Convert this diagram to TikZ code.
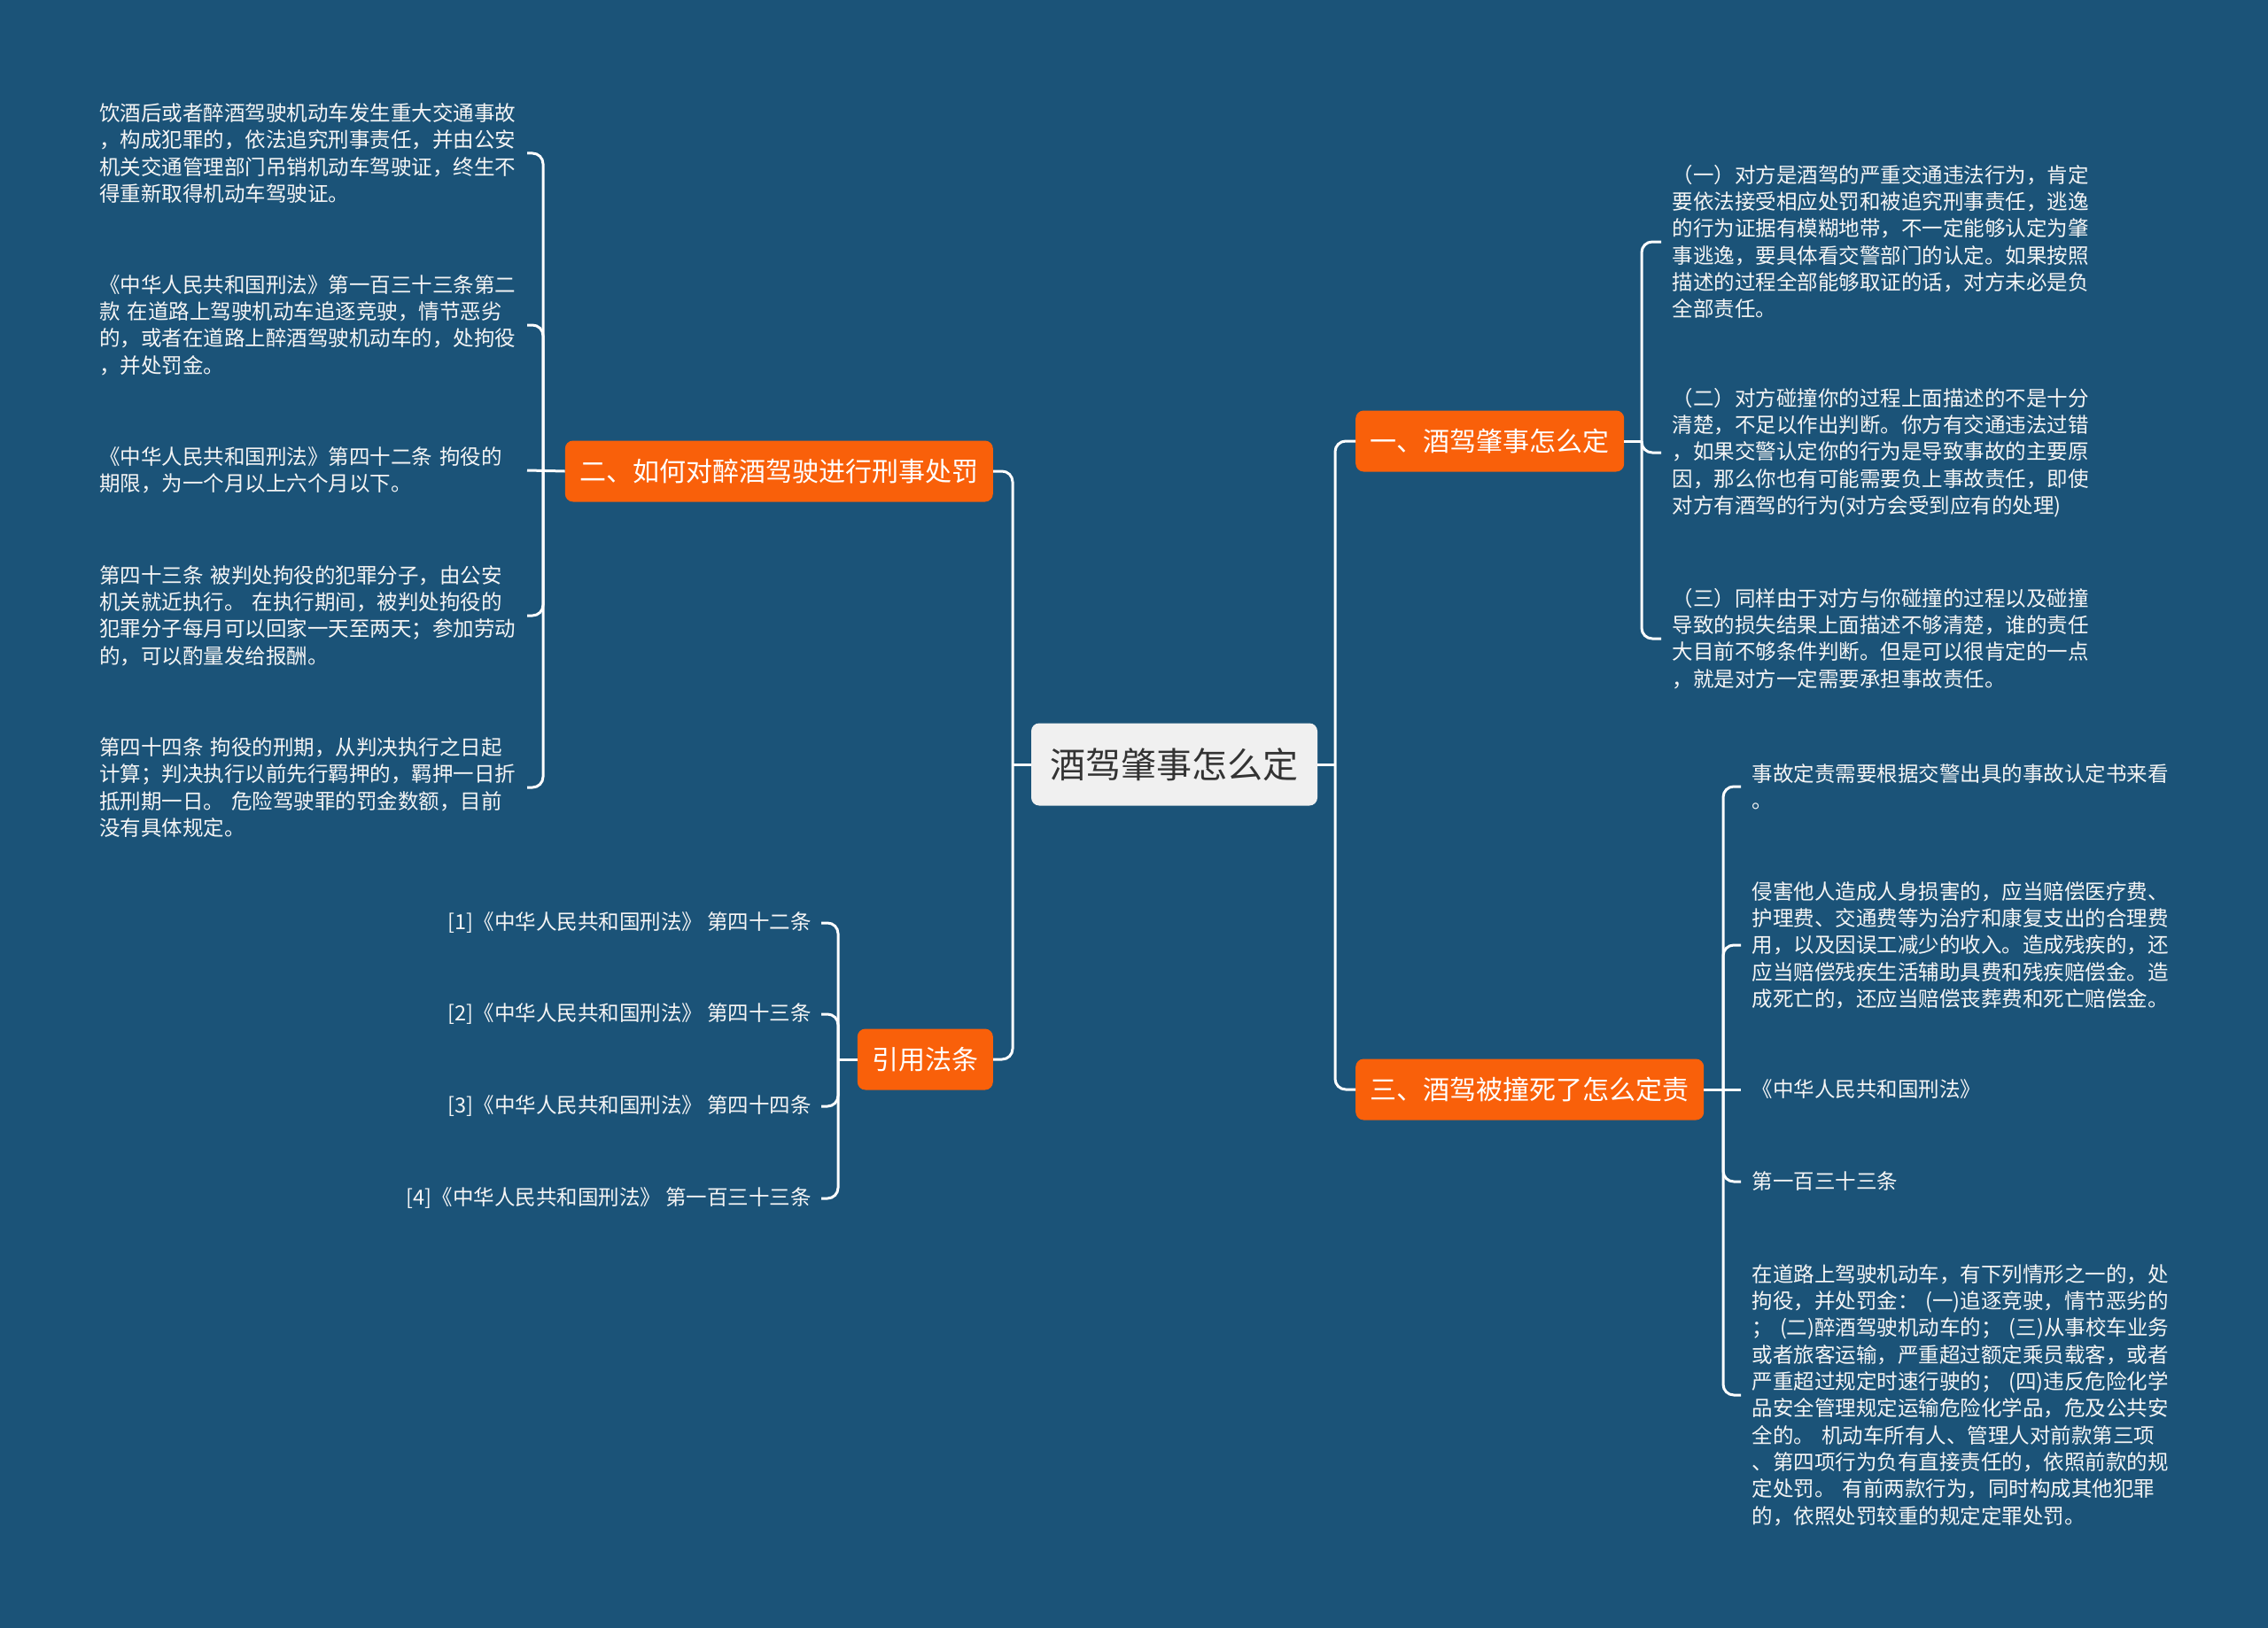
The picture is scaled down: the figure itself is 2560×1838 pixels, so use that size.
\documentclass[tikz,border=0pt]{standalone}
\usepackage{fontspec}
\setmainfont{Noto Sans CJK SC}
\definecolor{bgblue}{RGB}{27,83,120}
\definecolor{orng}{RGB}{249,96,10}
\definecolor{rootfill}{RGB}{240,240,240}
\definecolor{roottext}{RGB}{51,51,51}
\definecolor{leaftext}{RGB}{245,245,245}
\tikzset{
  conn/.style={draw=white, line width=3pt},
  rc/.style={conn, rounded corners=12pt},
  rootbox/.style={fill=rootfill, text=roottext, rounded corners=9pt, font=\fontsize{40}{48}\selectfont, inner xsep=21.5pt, inner ysep=0pt, minimum height=93pt},
  branch/.style={fill=orng, text=white, rounded corners=9pt, font=\fontsize{30}{36}\selectfont, inner xsep=16.5pt, inner ysep=0pt, minimum height=69pt},
  leaf/.style={text=leaftext, font=\fontsize{23.5}{30.3}\selectfont, align=left, text width=470pt, inner xsep=12.5pt, inner ysep=2pt},
  citeleaf/.style={text=leaftext, font=\fontsize{23.5}{30.3}\selectfont, inner xsep=11pt, inner ysep=2pt}
}
\begin{document}
\begin{tikzpicture}[x=1pt,y=-1pt]
\useasboundingbox (0,0) rectangle (2560,1838);
\fill[bgblue] (0,0) rectangle (2560,1838);

% root and branches
\node[rootbox] (root) at (1325.5,863) {酒驾肇事怎么定};
\node[branch, anchor=west] (b1) at (1530,498) {一、酒驾肇事怎么定};
\node[branch, anchor=west] (b3) at (1530,1230) {三、酒驾被撞死了怎么定责};
\node[branch, anchor=east] (b2) at (1121,532) {二、如何对醉酒驾驶进行刑事处罚};
\node[branch, anchor=east] (cite) at (1121,1196) {引用法条};

% left leaves of b2
\node[leaf, anchor=east] (L1) at (595,173) {饮酒后或者醉酒驾驶机动车发生重大交通事故\\，构成犯罪的，依法追究刑事责任，并由公安\\机关交通管理部门吊销机动车驾驶证，终生不\\得重新取得机动车驾驶证。};
\node[leaf, anchor=east] (L2) at (595,367) {《中华人民共和国刑法》第一百三十三条第二\\款~在道路上驾驶机动车追逐竞驶，情节恶劣\\的，或者在道路上醉酒驾驶机动车的，处拘役\\，并处罚金。};
\node[leaf, anchor=east] (L3) at (595,531) {《中华人民共和国刑法》第四十二条~拘役的\\期限，为一个月以上六个月以下。};
\node[leaf, anchor=east] (L4) at (595,695) {第四十三条~被判处拘役的犯罪分子，由公安\\机关就近执行。~在执行期间，被判处拘役的\\犯罪分子每月可以回家一天至两天；参加劳动\\的，可以酌量发给报酬。};
\node[leaf, anchor=east] (L5) at (595,889) {第四十四条~拘役的刑期，从判决执行之日起\\计算；判决执行以前先行羁押的，羁押一日折\\抵刑期一日。~危险驾驶罪的罚金数额，目前\\没有具体规定。};

% cite leaves
\node[citeleaf, anchor=east] (c1) at (927,1042) {[1]《中华人民共和国刑法》~第四十二条};
\node[citeleaf, anchor=east] (c2) at (927,1145) {[2]《中华人民共和国刑法》~第四十三条};
\node[citeleaf, anchor=east] (c3) at (927,1249) {[3]《中华人民共和国刑法》~第四十四条};
\node[citeleaf, anchor=east] (c4) at (927,1353) {[4]《中华人民共和国刑法》~第一百三十三条};

% right leaves of b1
\node[leaf, anchor=west] (r1a) at (1875,273) {（一）对方是酒驾的严重交通违法行为，肯定\\要依法接受相应处罚和被追究刑事责任，逃逸\\的行为证据有模糊地带，不一定能够认定为肇\\事逃逸，要具体看交警部门的认定。如果按照\\描述的过程全部能够取证的话，对方未必是负\\全部责任。};
\node[leaf, anchor=west] (r1b) at (1875,511) {（二）对方碰撞你的过程上面描述的不是十分\\清楚，不足以作出判断。你方有交通违法过错\\，如果交警认定你的行为是导致事故的主要原\\因，那么你也有可能需要负上事故责任，即使\\对方有酒驾的行为(对方会受到应有的处理)};
\node[leaf, anchor=west] (r1c) at (1875,721) {（三）同样由于对方与你碰撞的过程以及碰撞\\导致的损失结果上面描述不够清楚，谁的责任\\大目前不够条件判断。但是可以很肯定的一点\\，就是对方一定需要承担事故责任。};

% right leaves of b3
\node[leaf, anchor=west] (r3a) at (1965,888) {事故定责需要根据交警出具的事故认定书来看\\。};
\node[leaf, anchor=west] (r3b) at (1965,1067) {侵害他人造成人身损害的，应当赔偿医疗费、\\护理费、交通费等为治疗和康复支出的合理费\\用，以及因误工减少的收入。造成残疾的，还\\应当赔偿残疾生活辅助具费和残疾赔偿金。造\\成死亡的，还应当赔偿丧葬费和死亡赔偿金。};
\node[leaf, anchor=west] (r3c) at (1965,1230) {《中华人民共和国刑法》};
\node[leaf, anchor=west] (r3d) at (1965,1334) {第一百三十三条};
\node[leaf, anchor=west] (r3e) at (1965,1575) {在道路上驾驶机动车，有下列情形之一的，处\\拘役，并处罚金：~(一)追逐竞驶，情节恶劣的\\；~(二)醉酒驾驶机动车的；~(三)从事校车业务\\或者旅客运输，严重超过额定乘员载客，或者\\严重超过规定时速行驶的；~(四)违反危险化学\\品安全管理规定运输危险化学品，危及公共安\\全的。~机动车所有人、管理人对前款第三项\\、第四项行为负有直接责任的，依照前款的规\\定处罚。~有前两款行为，同时构成其他犯罪\\的，依照处罚较重的规定定罪处罚。};

% junction coordinates
\coordinate (tL) at (1143,863);
\coordinate (tR) at (1507,863);
\coordinate (vL) at (613,532);
\coordinate (vC) at (946,1196);
\coordinate (v1) at (1853,498);
\coordinate (v3) at (1945,1230);

% trunks
\draw[conn] (root.west) -- (tL);
\draw[rc] (b2.east) -| (tL) |- (cite.east);
\draw[conn] (root.east) -- (tR);
\draw[rc] (b1.west) -| (tR) |- (b3.west);

% b2 bracket
\draw[conn] (b2.west) -- (L3.east);
\draw[rc] (L1.east) -| (vL) |- (L5.east);
\draw[rc] (L2.east) -| (vL);
\draw[rc] (L4.east) -| (vL);

% cite bracket
\draw[conn] (cite.west) -- (vC);
\draw[rc] (c1.east) -| (vC) |- (c4.east);
\draw[rc] (c2.east) -| (vC);
\draw[rc] (c3.east) -| (vC);

% b1 bracket
\draw[conn] (b1.east) -- (v1);
\draw[rc] (r1a.west) -| (v1) |- (r1c.west);
\draw[rc] (r1b.west) -| (v1);

% b3 bracket
\draw[conn] (b3.east) -- (r3c.west);
\draw[rc] (r3a.west) -| (v3) |- (r3e.west);
\draw[rc] (r3b.west) -| (v3);
\draw[rc] (r3d.west) -| (v3);
\end{tikzpicture}
\end{document}
